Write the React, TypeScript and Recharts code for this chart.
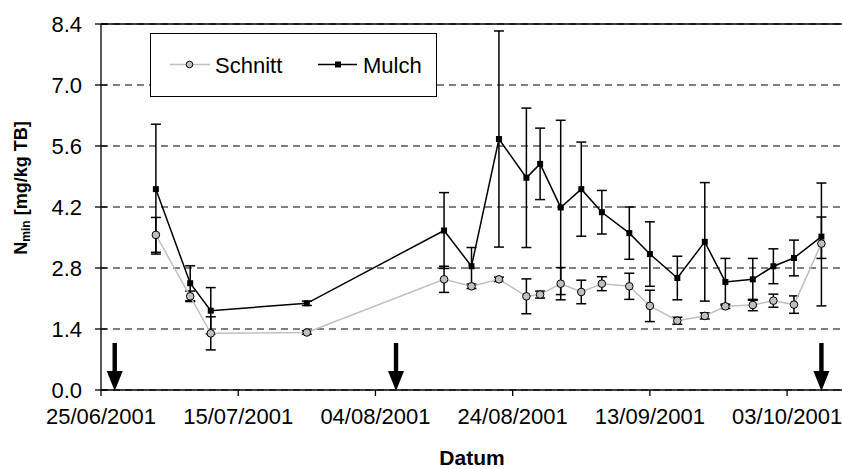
import { ComposedChart, Line, Scatter, XAxis, YAxis, CartesianGrid, ErrorBar, Legend, ReferenceLine } from 'recharts'

const dates = [
  '03/07/2001', '08/07/2001', '11/07/2001', '25/07/2001', '14/08/2001', '18/08/2001', '22/08/2001',
  '26/08/2001', '28/08/2001', '31/08/2001', '03/09/2001', '06/09/2001', '10/09/2001', '13/09/2001',
  '17/09/2001', '21/09/2001', '24/09/2001', '28/09/2001', '01/10/2001', '04/10/2001', '08/10/2001',
]
const schnitt = [3.56, 2.15, 1.3, 1.32, 2.54, 2.38, 2.54, 2.15, 2.19, 2.44, 2.25, 2.44, 2.38, 1.93, 1.59, 1.7, 1.92, 1.95, 2.05, 1.96, 3.36]
const schnittErr: (number | [number, number])[] = [0.4, 0.12, 0.38, 0.04, 0.3, 0.05, 0.05, 0.4, 0.08, 0.37, 0.27, 0.16, 0.3, 0.36, 0.08, 0.07, 0.05, 0.13, 0.15, 0.2, [0.34, 0.61]]
const mulch = [4.61, 2.45, 1.82, 1.99, 3.66, 2.84, 5.76, 4.87, 5.19, 4.19, 4.61, 4.08, 3.6, 3.12, 2.57, 3.4, 2.48, 2.54, 2.84, 3.03, 3.52]
const mulchErr: (number | [number, number])[] = [1.49, 0.4, 0.53, 0.05, 0.87, 0.43, 2.48, 1.6, 0.82, 2.0, 1.08, 0.5, 0.6, 0.74, 0.5, 1.36, 0.54, 0.48, 0.4, 0.41, [1.59, 1.23]]
const arrowDates = ['27/06/2001', '07/08/2001', '08/10/2001']
const xTickLabels = ['25/06/2001', '15/07/2001', '04/08/2001', '24/08/2001', '13/09/2001', '03/10/2001']
const yTicks = [0, 1.4, 2.8, 4.2, 5.6, 7.0, 8.4]

const FONT = '"Liberation Sans", Arial, sans-serif'

// day offset from the first axis label
const toDay = (s: string) => {
  const [d, m, y] = s.split('/').map(Number)
  const [d0, m0, y0] = xTickLabels[0].split('/').map(Number)
  return Math.round((Date.UTC(y, m - 1, d) - Date.UTC(y0, m0 - 1, d0)) / 86400000)
}

const xTicks = xTickLabels.map(toDay)
const data = dates.map((d, i) => ({
  day: toDay(d),
  schnitt: schnitt[i],
  schnittErr: schnittErr[i],
  mulch: mulch[i],
  mulchErr: mulchErr[i],
}))
const arrows = arrowDates.map((d) => ({ day: toDay(d), y: 0 }))

const YTick = ({ x, y, payload }: any) => (
  <g>
    <line x1={x - 6} x2={x + 6} y1={y} y2={y} stroke="#000" strokeWidth={1.3} />
    <text x={x - 19} y={y} dy={8} textAnchor="end" fontSize={22} fontFamily={FONT} fill="#000">
      {Number(payload.value).toFixed(1)}
    </text>
  </g>
)

const Arrow = ({ cx, cy }: any) => (
  <g>
    <rect x={cx - 2.2} y={cy - 47} width={4.4} height={29} fill="#000" />
    <path d={`M${cx - 8},${cy - 19} L${cx + 8},${cy - 19} L${cx},${cy + 1} Z`} fill="#000" />
  </g>
)

const MulchDot = ({ cx, cy, index }: any) => (
  <rect key={`m${index}`} x={cx - 3} y={cy - 3} width={6} height={6} fill="#000" />
)

const LegendBox = () => (
  <svg width={288} height={65} style={{ display: 'block' }}>
    <rect x={0.5} y={0.5} width={286} height={63} fill="#fff" stroke="#000" strokeWidth={1} />
    <line x1={20} x2={60} y1={31.5} y2={31.5} stroke="#c0c0c0" strokeWidth={1.5} />
    <circle cx={39.5} cy={31.5} r={3.3} fill="#c0c0c0" stroke="#000" strokeWidth={1} />
    <text x={65} y={40} fontSize={22} fontFamily={FONT} fill="#000">Schnitt</text>
    <line x1={168} x2={207} y1={31.5} y2={31.5} stroke="#000" strokeWidth={1.5} />
    <rect x={185} y={28.5} width={6} height={6} fill="#000" />
    <text x={213} y={40} fontSize={22} fontFamily={FONT} fill="#000">Mulch</text>
  </svg>
)

export default function App() {
  return (
    <div style={{ position: 'absolute', left: 0, top: 0, width: 842, height: 469, overflow: 'hidden', background: '#fff' }}>
      <ComposedChart width={842} height={469} data={data} margin={{ top: 24, right: 0, bottom: 0, left: 0 }}>
        <CartesianGrid vertical={false} stroke="#000" strokeDasharray="7 5" />
        <XAxis
          dataKey="day"
          type="number"
          domain={[0, 108]}
          ticks={xTicks}
          tickFormatter={(v: number) => xTickLabels[xTicks.indexOf(v)] ?? ''}
          height={79}
          stroke="#000"
          strokeWidth={1.3}
          tickSize={6}
          tickMargin={12}
          tick={{ fontSize: 22, fill: '#000', fontFamily: FONT }}
          interval={0}
          label={() => (
            <text x={472} y={465} textAnchor="middle" fontSize={21} fontWeight="bold" fontFamily={FONT} fill="#000">
              Datum
            </text>
          )}
        />
        <YAxis
          type="number"
          domain={[0, 8.4]}
          ticks={yTicks}
          width={101}
          stroke="#000"
          strokeWidth={1.3}
          tickSize={0}
          tickMargin={0}
          tickLine={false}
          tick={<YTick />}
          interval={0}
          label={() => (
            <text transform="translate(27,188) rotate(-90)" textAnchor="middle" fontSize={18} fontWeight="bold" fontFamily={FONT} fill="#000">
              <tspan>N</tspan>
              <tspan fontSize={12} dy={3}>min</tspan>
              <tspan dy={-3}> [mg/kg TB]</tspan>
            </text>
          )}
        />
        <ReferenceLine y={8.4} stroke="#000" strokeWidth={1.3} />
        <Legend
          layout="horizontal"
          verticalAlign="middle"
          align="center"
          content={() => <LegendBox />}
          wrapperStyle={{ position: 'absolute', left: 150, top: 33, width: 288, height: 65 }}
        />
        <Line
          dataKey="mulch"
          name="Mulch"
          stroke="#000"
          strokeWidth={1.5}
          dot={<MulchDot />}
          activeDot={false}
          isAnimationActive={false}
        >
          <ErrorBar dataKey="mulchErr" width={5} stroke="#000" strokeWidth={1.5} direction="y" />
        </Line>
        <Line
          dataKey="schnitt"
          name="Schnitt"
          stroke="#c0c0c0"
          strokeWidth={1.5}
          dot={{ r: 3.8, fill: '#c0c0c0', stroke: '#000', strokeWidth: 1 }}
          activeDot={false}
          isAnimationActive={false}
        >
          <ErrorBar dataKey="schnittErr" width={5} stroke="#000" strokeWidth={1.5} direction="y" />
        </Line>
        <Scatter data={arrows} dataKey="y" shape={<Arrow />} legendType="none" isAnimationActive={false} />
      </ComposedChart>
    </div>
  )
}
